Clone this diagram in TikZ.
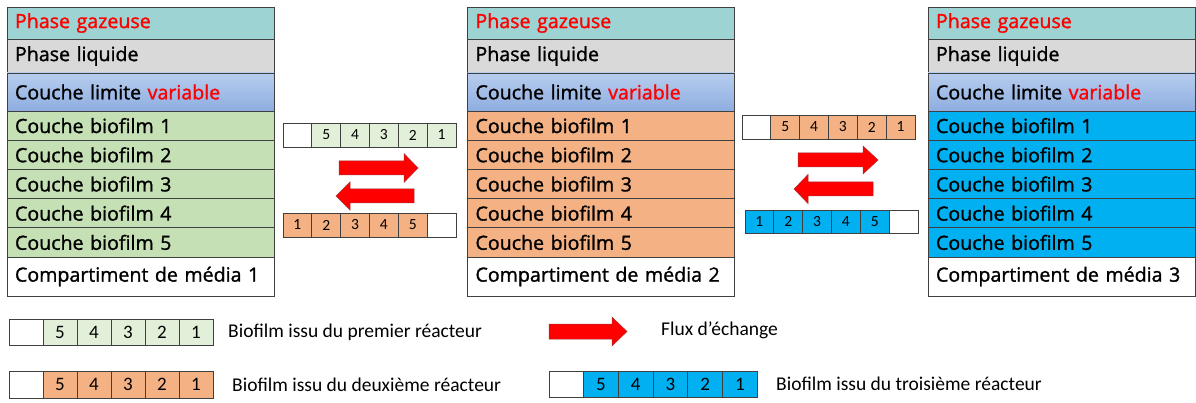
\documentclass[tikz,border=0pt]{standalone}
\usepackage{fontspec}
\setmainfont{Open Sans}
\newfontfamily\stackfont{Open Sans}[FakeBold=1.3]
\newfontfamily\legfont{Carlito}
\definecolor{gascol}{HTML}{9DD3D3}
\definecolor{liqcol}{HTML}{D9D9D9}
\definecolor{limtop}{HTML}{B7CDEE}
\definecolor{limbot}{HTML}{8EADE0}
\definecolor{greencol}{HTML}{C5E0B4}
\definecolor{lightgreen}{HTML}{E2F0D9}
\definecolor{orangecol}{HTML}{F4B183}
\definecolor{bluecol}{HTML}{00B0F0}
\definecolor{edgecol}{HTML}{404040}
\definecolor{redtext}{HTML}{FF0000}
\newcommand\mystack[4]{%
  \node[row, fill=gascol, minimum height=32pt] (#2g) at (#1,7) {\textcolor{redtext}{Phase gazeuse}};
  \node[row, fill=liqcol, minimum height=34pt] (#2l) at (#2g.south west) {Phase liquide};
  \node[row, top color=limtop, bottom color=limbot, minimum height=38pt] (#2c) at (#2l.south west) {Couche limite \textcolor{redtext}{variable}};
  \node[row, fill=#3, minimum height=29.2pt] (#2b1) at (#2c.south west) {Couche biofilm 1};
  \node[row, fill=#3, minimum height=29.2pt] (#2b2) at (#2b1.south west) {Couche biofilm 2};
  \node[row, fill=#3, minimum height=29.2pt] (#2b3) at (#2b2.south west) {Couche biofilm 3};
  \node[row, fill=#3, minimum height=29.2pt] (#2b4) at (#2b3.south west) {Couche biofilm 4};
  \node[row, fill=#3, minimum height=29.2pt] (#2b5) at (#2b4.south west) {Couche biofilm 5};
  \node[row, fill=white, minimum height=39pt] (#2m) at (#2b5.south west) {Compartiment de média #4};
}
\newcommand\cellbar[7]{%
  \foreach \lab/\col [count=\i from 0] in {#7} {
    \node[cellbox, fill=\col, minimum width=#4pt, minimum height=#5pt, font=#6] (#1-\i) at ({#2+\i*#4},#3) {\lab};
  }%
}
\newcommand\blockarrow[6]{% tail x, head base x, tip x, y mid, body half, head half
  \fill[red] (#1,#4-#5) -- (#2,#4-#5) -- (#2,#4-#6) -- (#3,#4) -- (#2,#4+#6) -- (#2,#4+#5) -- (#1,#4+#5) -- cycle;
  \draw[arrowedge] (#1,#4-#5) -- (#2,#4-#5) -- (#2,#4-#6) -- (#3,#4) -- (#2,#4+#6) -- (#2,#4+#5) -- (#1,#4+#5) -- cycle;
}
\begin{document}
\begin{tikzpicture}[x=1pt,y=-1pt,
  row/.style={draw=edgecol, line width=0.9pt, anchor=north west, inner xsep=8pt, inner ysep=0pt, outer sep=0pt,
    text width=251pt, align=left, minimum width=267pt, font=\stackfont\fontsize{19.6}{21}\selectfont},
  cellbox/.style={draw=edgecol, line width=0.8pt, anchor=north west, inner sep=0pt, outer sep=0pt},
  arrowedge/.style={draw=red!55!black!80, line width=0.5pt, line join=miter},
  legtext/.style={anchor=west, inner sep=0pt, font=\legfont\fontsize{19.5}{22}\selectfont}]
\useasboundingbox (0,0) rectangle (1196,403);
\fill[white] (0,0) rectangle (1196,403);
\mystack{7}{s1}{greencol}{1}
\mystack{467.5}{s2}{orangecol}{2}
\mystack{928}{s3}{bluecol}{3}
% exchange bars between stacks
\cellbar{ta}{283}{123}{28.83}{24}{\legfont\fontsize{15.5}{17}\selectfont}{/white,5/lightgreen,4/lightgreen,3/lightgreen,2/lightgreen,1/lightgreen}
\cellbar{tb}{283}{213}{28.83}{24}{\legfont\fontsize{15.5}{17}\selectfont}{1/orangecol,2/orangecol,3/orangecol,4/orangecol,5/orangecol,/white}
\cellbar{tc}{742}{115}{28.83}{24}{\legfont\fontsize{15.5}{17}\selectfont}{/white,5/orangecol,4/orangecol,3/orangecol,2/orangecol,1/orangecol}
\cellbar{td}{745}{210}{28.83}{23}{\legfont\fontsize{15.5}{17}\selectfont}{1/bluecol,2/bluecol,3/bluecol,4/bluecol,5/bluecol,/white}
% exchange arrows
\blockarrow{339}{404}{418}{168}{7}{14.5}
\blockarrow{414}{350}{336}{196}{7}{14}
\blockarrow{798}{863}{878}{160}{7}{14}
\blockarrow{873}{808}{794}{189}{7}{14.5}
% legend
\cellbar{la}{9}{319}{34}{26}{\legfont\fontsize{19}{21}\selectfont}{/white,5/lightgreen,4/lightgreen,3/lightgreen,2/lightgreen,1/lightgreen}
\node[legtext] (lta) at (228,332) {Biofilm issu du premier réacteur};
\cellbar{lb}{9}{371}{34}{27}{\legfont\fontsize{19}{21}\selectfont}{/white,5/orangecol,4/orangecol,3/orangecol,2/orangecol,1/orangecol}
\node[legtext] (ltb) at (232,385) {Biofilm issu du deuxième réacteur};
\blockarrow{549}{612}{627}{331.5}{7.5}{14.5}
\node[legtext] (ltf) at (661,330) {Flux d’échange};
\cellbar{lc}{549}{371}{34.7}{26}{\legfont\fontsize{19}{21}\selectfont}{/white,5/bluecol,4/bluecol,3/bluecol,2/bluecol,1/bluecol}
\node[legtext] (ltc) at (776,384) {Biofilm issu du troisième réacteur};
\end{tikzpicture}
\end{document}
